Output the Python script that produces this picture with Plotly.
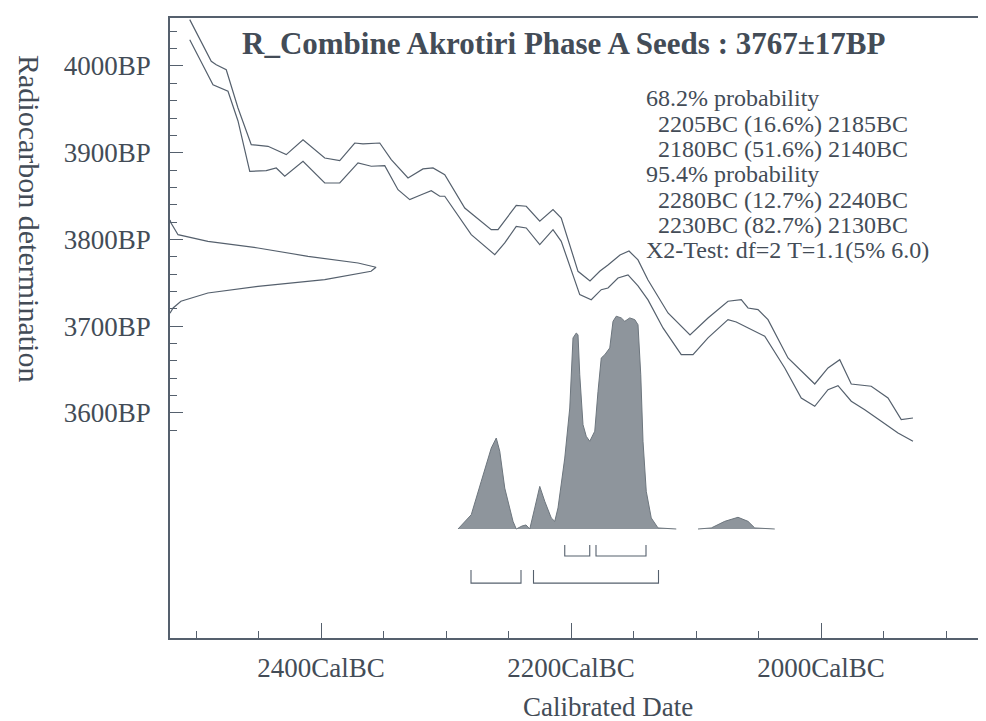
import plotly.graph_objects as go

# ---------------- data ----------------
# Calibration curve (upper / lower 1-sigma envelope), calendar years BC vs radiocarbon BP
curve_upper_bc = [2505.0, 2487.8, 2483.8, 2475.8, 2466.4, 2455.8, 2442.4, 2427.8, 2414.4, 2397.0,
                  2385.0, 2373.0, 2366.4, 2353.0, 2343.8, 2330.4, 2318.4, 2310.4, 2301.0, 2285.0,
                  2263.8, 2258.4, 2243.8, 2235.8, 2225.0, 2214.4, 2207.8, 2194.4, 2184.8, 2176.8,
                  2170.4, 2160.8, 2153.6, 2146.4, 2138.4, 2122.4, 2104.8, 2090.4, 2074.4, 2063.8,
                  2058.4, 2050.4, 2042.4, 2026.4, 2005.0, 1994.4, 1985.0, 1975.8, 1959.8, 1946.4,
                  1935.8, 1926.4]
curve_upper_bp = [4053.4, 4005.4, 4001.5, 3995.7, 3951.6, 3909.3, 3907.4, 3897.8, 3915.0, 3893.9,
                  3890.8, 3911.2, 3910.1, 3911.2, 3892.0, 3870.9, 3881.3, 3882.4, 3874.7, 3836.3,
                  3811.3, 3811.3, 3839.4, 3838.3, 3821.0, 3834.4, 3824.8, 3763.3, 3752.2, 3763.7,
                  3770.6, 3782.1, 3786.7, 3776.4, 3753.3, 3715.3, 3689.9, 3709.5, 3728.8, 3730.6,
                  3721.0, 3719.1, 3707.6, 3663.4, 3633.4, 3651.9, 3661.4, 3633.4, 3630.8, 3617.3,
                  3592.3, 3594.2]
curve_lower_bc = [2505.0, 2486.4, 2474.4, 2466.4, 2457.0, 2443.8, 2435.8, 2429.0, 2414.4, 2397.0,
                  2385.0, 2370.4, 2359.8, 2349.0, 2338.4, 2329.0, 2319.8, 2311.8, 2305.0, 2301.0,
                  2279.8, 2261.0, 2253.0, 2243.8, 2235.8, 2225.0, 2214.4, 2207.8, 2193.0, 2183.8,
                  2175.8, 2170.4, 2162.4, 2154.4, 2146.4, 2138.4, 2126.4, 2111.8, 2102.4, 2090.4,
                  2074.4, 2067.8, 2045.0, 2029.0, 2015.8, 2005.0, 1994.4, 1986.4, 1975.8, 1965.0,
                  1951.8, 1938.4, 1926.4]
curve_lower_bp = [4030.3, 3978.4, 3970.8, 3936.6, 3878.6, 3879.3, 3882.4, 3872.9, 3890.1, 3865.1,
                  3865.1, 3888.2, 3884.4, 3885.1, 3857.4, 3845.9, 3851.6, 3856.3, 3849.8, 3849.8,
                  3805.5, 3782.5, 3796.0, 3815.2, 3813.3, 3794.0, 3811.3, 3797.9, 3736.4, 3730.6,
                  3742.1, 3744.1, 3755.6, 3759.1, 3746.4, 3730.3, 3698.0, 3667.2, 3667.2, 3686.5,
                  3707.6, 3704.9, 3688.4, 3651.9, 3617.3, 3607.7, 3626.9, 3631.5, 3613.5, 3603.8,
                  3590.4, 3576.9, 3567.4]

# Radiocarbon measurement distribution (BP vs relative probability)
meas_bp = [3822.5, 3819.0, 3805.5, 3797.9, 3790.2, 3780.6, 3772.9, 3768.0, 3763.3, 3753.7,
           3746.0, 3738.3, 3728.8, 3721.0, 3715.0]
meas_prob = [0.0, 0.005, 0.039, 0.184, 0.427, 0.670, 0.913, 1.0, 0.976, 0.751,
             0.427, 0.184, 0.053, 0.015, 0.0]

# Calibrated distribution (years BC vs relative probability), two segments
cal_bc_a = [2290.4, 2279.8, 2271.8, 2263.8, 2259.8, 2257.0, 2253.0, 2246.4, 2243.8, 2239.2,
            2236.0, 2233.0, 2229.0, 2225.0, 2221.0, 2215.8, 2213.0, 2210.4, 2205.0, 2201.0,
            2198.4, 2195.8, 2194.4, 2193.0, 2190.4, 2187.8, 2185.0, 2181.0, 2178.4, 2175.8,
            2173.0, 2169.0, 2166.4, 2163.8, 2159.8, 2157.0, 2153.0, 2149.0, 2146.4, 2144.2,
            2142.4, 2139.8, 2135.8, 2130.4, 2115.8]
cal_prob_a = [0.0, 0.067, 0.224, 0.380, 0.427, 0.365, 0.192, 0.036, 0.0, 0.014,
              0.019, 0.0, 0.099, 0.200, 0.130, 0.052, 0.036, 0.099, 0.333, 0.568,
              0.897, 0.920, 0.912, 0.724, 0.490, 0.435, 0.412, 0.459, 0.646, 0.803,
              0.818, 0.850, 0.975, 0.999, 0.991, 0.975, 0.991, 0.983, 0.959, 0.724,
              0.412, 0.177, 0.052, 0.005, 0.0]
cal_bc_b = [2098.4, 2087.8, 2077.0, 2066.4, 2058.4, 2053.0, 2037.0]
cal_prob_b = [0.0, 0.005, 0.036, 0.055, 0.036, 0.005, 0.0]

# Probability ranges (BC)
range68_from = [2205, 2180]
range68_to = [2185, 2140]
range95_from = [2280, 2230]
range95_to = [2240, 2130]

# Axis ticks
x_major = [2400, 2200, 2000]
x_major_text = ["2400CalBC", "2200CalBC", "2000CalBC"]
x_minor = [2500, 2450, 2350, 2300, 2250, 2150, 2100, 2050, 1950, 1900]
y_major = [3600, 3700, 3800, 3900, 4000]
y_major_text = ["3600BP", "3700BP", "3800BP", "3900BP", "4000BP"]
y_minor = [3580, 3620, 3640, 3660, 3680, 3720, 3740, 3760, 3780, 3820, 3840, 3860, 3880,
           3920, 3940, 3960, 3980, 4020, 4040]

title_text = "R_Combine Akrotiri Phase A Seeds : 3767±17BP"
info_lines = ["68.2% probability",
              "  2205BC (16.6%) 2185BC",
              "  2180BC (51.6%) 2140BC",
              "95.4% probability",
              "  2280BC (12.7%) 2240BC",
              "  2230BC (82.7%) 2130BC",
              "X2-Test: df=2 T=1.1(5% 6.0)"]

# ---------------- style ----------------
FONT = "Liberation Serif"
LINE = "#55606d"
TEXT = "#434c57"
FILL = "#8e959c"

fig = go.Figure()

fig.add_trace(go.Scatter(x=curve_upper_bc, y=curve_upper_bp, mode="lines",
                         line=dict(color=LINE, width=1.2), showlegend=False, hoverinfo="skip"))
fig.add_trace(go.Scatter(x=curve_lower_bc, y=curve_lower_bp, mode="lines",
                         line=dict(color=LINE, width=1.2), showlegend=False, hoverinfo="skip"))

fig.add_trace(go.Scatter(x=meas_prob, y=meas_bp, xaxis="x2", yaxis="y", mode="lines",
                         line=dict(color=LINE, width=1.2), showlegend=False, hoverinfo="skip"))

for bx, by in ((cal_bc_a, cal_prob_a), (cal_bc_b, cal_prob_b)):
    fig.add_trace(go.Scatter(x=bx, y=by, xaxis="x", yaxis="y2", mode="lines",
                             fill="tozeroy", fillcolor=FILL,
                             line=dict(color="#6d767e", width=1.0),
                             showlegend=False, hoverinfo="skip"))

def brackets(starts, ends, top, bottom):
    xs, ys = [], []
    for s, e in zip(starts, ends):
        xs += [s, s, e, e, None]
        ys += [top, bottom, bottom, top, None]
    return xs, ys

bx, by = brackets(range68_from, range68_to, -0.075, -0.127)
fig.add_trace(go.Scatter(x=bx, y=by, xaxis="x", yaxis="y2", mode="lines",
                         line=dict(color=LINE, width=1.1), showlegend=False, hoverinfo="skip"))
bx, by = brackets(range95_from, range95_to, -0.192, -0.254)
fig.add_trace(go.Scatter(x=bx, y=by, xaxis="x", yaxis="y2", mode="lines",
                         line=dict(color=LINE, width=1.1), showlegend=False, hoverinfo="skip"))

annotations = [
    dict(text="<b>" + title_text + "</b>", xref="paper", yref="paper", x=(555 - 162) / 824, y=1.0,
         yshift=-25, xanchor="center", yanchor="middle", showarrow=False,
         font=dict(family=FONT, size=31, color=TEXT)),
    dict(text="Calibrated Date", xref="paper", yref="paper", x=(600 - 162) / 824, y=0.0, yshift=-69,
         xanchor="center", yanchor="middle", showarrow=False,
         font=dict(family=FONT, size=27, color=TEXT)),
    dict(text="Radiocarbon determination", xref="paper", yref="paper", x=0.0, xshift=-140,
         y=0.0, yshift=420, textangle=90, xanchor="center", yanchor="middle", showarrow=False,
         font=dict(family=FONT, size=30, color=TEXT)),
]
line_y = [90, 116, 141, 166, 192, 217, 242]
for txt, py in zip(info_lines, line_y):
    annotations.append(dict(text=txt.replace(" ", "&nbsp;"), xref="paper", yref="paper",
                            x=(636 - 162) / 824, y=1.0, yshift=-(py - 10),
                            xanchor="left", yanchor="middle", showarrow=False,
                            font=dict(family=FONT, size=24, color=TEXT)))

axis_common = dict(showgrid=False, zeroline=False, showline=True, linecolor=LINE, linewidth=1.5,
                   ticks="inside", tickcolor=LINE, tickwidth=1.3,
                   tickfont=dict(family=FONT, size=27, color=TEXT))

fig.update_layout(
    width=986, height=721,
    margin=dict(l=162, r=0, t=10, b=91),
    paper_bgcolor="white", plot_bgcolor="white",
    showlegend=False,
    xaxis=dict(range=[2520.8, 1861.6], tickmode="array", tickvals=x_major, ticktext=x_major_text,
               ticklen=15, mirror=True, ticklabelstandoff=5,
               minor=dict(tickmode="array", tickvals=x_minor, ticks="inside", ticklen=7,
                          tickcolor=LINE, tickwidth=1.2),
               **axis_common),
    yaxis=dict(range=[3340.6, 4055.3], tickmode="array", tickvals=y_major, ticktext=y_major_text,
               ticklen=13, ticklabelstandoff=12,
               minor=dict(tickmode="array", tickvals=y_minor, ticks="inside", ticklen=7,
                          tickcolor=LINE, tickwidth=1.2),
               **axis_common),
    xaxis2=dict(range=[0, 4.0], overlaying="x", anchor="y", visible=False),
    yaxis2=dict(range=[-0.5117, 2.399], overlaying="y", anchor="x", visible=False),
    annotations=annotations,
)

fig.write_html("out.html")
